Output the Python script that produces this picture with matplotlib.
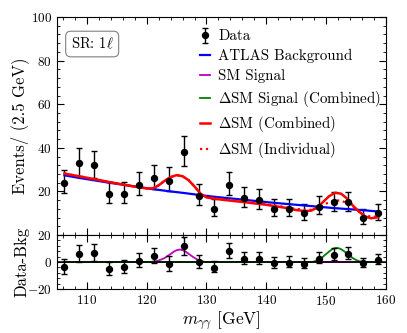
import numpy as np
import matplotlib
matplotlib.use("Agg")
import matplotlib.pyplot as plt
from matplotlib.ticker import MultipleLocator

plt.rcParams["font.family"] = "serif"
plt.rcParams["font.serif"] = ["cmr10"]
plt.rcParams["mathtext.fontset"] = "cm"
plt.rcParams["axes.formatter.use_mathtext"] = True

# data points (2.5 GeV bins)
mass = [106.25, 108.75, 111.25, 113.75, 116.25, 118.75, 121.25, 123.75, 126.25, 128.75, 131.25,
        133.75, 136.25, 138.75, 141.25, 143.75, 146.25, 148.75, 151.25, 153.75, 156.25, 158.75]
events = [24, 33, 32, 19, 19, 23, 26, 25, 38, 18, 12, 23, 17, 16, 12, 12, 10, 13, 15, 15, 8, 10]
resid = [-3.9, 6.1, 6.6, -5.1, -3.7, 0.8, 4.4, -1.5, 11.7, 0.0, -4.1,
         7.9, 2.5, 2.5, -0.8, -0.4, -1.5, 2.5, 5.1, 6.0, -0.8, 1.4]

# ATLAS background curve
bkg = [27.4, 26.2, 25.1, 24.0, 23.0, 22.0, 21.0, 20.1, 19.3, 18.4, 17.6,
       16.9, 16.2, 15.5, 14.8, 14.2, 13.6, 13.0, 12.4, 11.9, 11.4, 10.8]

# DeltaSM combined curve
comb_x = [106.25, 110, 114, 118, 120, 121, 122, 123, 124, 125, 126, 127, 128, 129, 130, 131, 133,
          136, 140, 143, 145, 146.5, 147.5, 148.5, 149.5, 150.5, 151.5, 152.5, 153.5, 154.5,
          155.5, 156.5, 157.5, 158.75]
comb_y = [28.2, 26.3, 24.2, 22.2, 21.4, 21.4, 22.8, 24.9, 26.6, 27.5, 27.0, 25.2, 22.3, 19.0, 17.3,
          16.8, 16.1, 15.2, 13.9, 12.6, 11.5, 11.0, 11.2, 12.6, 15.2, 17.8, 19.4, 19.0, 16.8, 13.5,
          10.8, 8.6, 7.7, 8.2]

# DeltaSM individual curve
indiv_x = [106.25, 110, 114, 118, 120, 121, 122, 123, 124, 125, 126, 127, 128, 129, 130, 131, 133,
           136, 140, 143, 145, 146.5, 147.5, 148.5, 149.5, 150.5, 151.5, 152.5, 153.5, 154.5,
           155.5, 156.5, 157.5, 158.75]
indiv_y = [28.2, 26.3, 24.2, 22.2, 21.4, 21.4, 22.8, 24.9, 26.6, 27.5, 27.0, 25.2, 22.3, 19.0, 17.5,
           17.1, 16.4, 15.5, 14.2, 12.9, 12.0, 11.6, 11.6, 12.3, 13.7, 15.1, 15.9, 15.8, 14.7, 12.8,
           10.8, 9.2, 8.4, 8.5]

# signals in residual panel
sm_x = [106.25, 120.5, 121.0, 121.5, 122.0, 122.5, 123.0, 123.5, 124.0, 124.5, 125.0, 125.5, 126.0,
        126.5, 127.0, 127.5, 128.0, 128.5, 129.0, 129.5, 130.0, 158.75]
sm_y = [0, 0, 0.3, 0.6, 1.2, 2.0, 3.0, 4.5, 6.0, 7.6, 8.8, 9.3, 8.9,
        7.8, 6.2, 4.6, 3.1, 1.8, 0.9, 0.3, 0, 0]
dsm_x = [106.25, 147.5, 148.0, 148.5, 149.0, 149.5, 150.0, 150.5, 151.0, 151.5, 152.0, 152.5, 153.0,
         153.5, 154.0, 154.5, 155.0, 155.5, 156.0, 156.5, 158.75]
dsm_y = [0, 0, 0.4, 1.2, 2.4, 4.0, 5.9, 7.8, 9.4, 10.4, 10.4, 9.6, 8.1,
         6.3, 4.5, 2.9, 1.6, 0.7, 0.2, 0, 0]

# poisson (Gehrels) error bars
n = np.array(events, dtype=float)
err_up = np.sqrt(n + 0.75) + 1
err_lo = n - n * (1 - 1 / (9 * n) - 1 / (3 * np.sqrt(n))) ** 3

fig = plt.figure(figsize=(4.07, 3.33), dpi=100)
ax = fig.add_axes([0.140, 0.294, 0.808, 0.655])
axr = fig.add_axes([0.140, 0.132, 0.808, 0.162], sharex=ax)

data = ax.errorbar(mass, events, yerr=[err_lo, err_up], fmt="o", color="k", ms=4.3,
                   capsize=2, elinewidth=1, capthick=1, label="Data")
l_bkg, = ax.plot(mass, bkg, color="b", lw=1.6, label="ATLAS Background")
l_ind, = ax.plot(indiv_x, indiv_y, color="r", lw=1.6, ls=":", label=r"$\Delta$SM (Individual)")
l_comb, = ax.plot(comb_x, comb_y, color="r", lw=1.8, label=r"$\Delta$SM (Combined)")

l_sm, = axr.plot(sm_x, sm_y, color="m", lw=1.3, label="SM Signal")
l_dsm, = axr.plot(dsm_x, dsm_y, color="g", lw=1.3, label=r"$\Delta$SM Signal (Combined)")
axr.axhline(0, color="k", lw=1.1)
axr.errorbar(mass, resid, yerr=[err_lo, err_up], fmt="o", color="k", ms=4.3,
             capsize=2, elinewidth=1, capthick=1)

ax.set_xlim(105, 160)
ax.set_ylim(0, 100)
ax.set_yticks([20, 40, 60, 80, 100])
ax.yaxis.set_minor_locator(MultipleLocator(4))
ax.xaxis.set_major_locator(MultipleLocator(10))
ax.xaxis.set_minor_locator(MultipleLocator(2))
axr.set_ylim(-20, 20)
axr.set_yticks([-20, 0, 20])
axr.yaxis.set_minor_locator(MultipleLocator(4))

for a in (ax, axr):
    a.tick_params(which="both", direction="in", top=True, right=True, labelsize=9.5)
    a.tick_params(which="major", length=5)
    a.tick_params(which="minor", length=2.5)
ax.tick_params(labelbottom=False)

ax.set_ylabel("Events/ (2.5 GeV)", fontsize=12)
axr.set_ylabel("Data-Bkg", fontsize=12)
ax.yaxis.set_label_coords(-0.085, 0.5)
axr.yaxis.set_label_coords(-0.085, 0.5)
axr.set_xlabel(r"$m_{\gamma\gamma}$ [GeV]", fontsize=12.5, labelpad=1)

ax.text(0.107, 0.876, r"SR: $1\ell$", transform=ax.transAxes, fontsize=10.5,
        ha="center", va="center",
        bbox=dict(boxstyle="round,pad=0.35", fc="white", ec="0.5", lw=0.8))

ax.legend([data, l_bkg, l_sm, l_dsm, l_comb, l_ind],
          ["Data", "ATLAS Background", "SM Signal", r"$\Delta$SM Signal (Combined)",
           r"$\Delta$SM (Combined)", r"$\Delta$SM (Individual)"],
          loc="upper left", bbox_to_anchor=(0.417, 0.969), frameon=False, fontsize=10.8,
          handlelength=0.67, handletextpad=0.53, labelspacing=0.38, borderaxespad=0)

fig.savefig("out.png", dpi=100)
